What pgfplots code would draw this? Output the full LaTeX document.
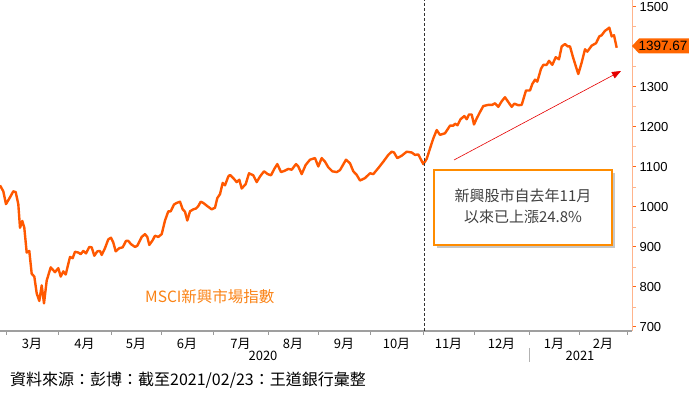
\documentclass[border=0pt]{standalone}
\usepackage{fontspec}
\setmainfont{Noto Sans CJK TC}
\newfontfamily\numfont{Liberation Sans}
\usepackage{pgfplots}
\pgfplotsset{compat=1.18}
\usetikzlibrary{arrows.meta}
\definecolor{lineor}{RGB}{255,88,0}
\definecolor{axor}{RGB}{255,180,140}
\definecolor{tickor}{RGB}{255,100,20}
\definecolor{tagor}{RGB}{255,102,0}
\definecolor{boxor}{RGB}{255,140,0}
\definecolor{lblor}{RGB}{250,130,20}
\definecolor{txtgray}{RGB}{64,64,64}
\pgfplotstableread{
x y
0 1054
3.3 1039
6 1007
10 1024
13.3 1039
15.7 1037
18.3 1007
20 948
22.3 965
24.3 948
26.7 886
29.3 890
31.7 833
34.3 826
36.7 784
39.3 765
41.7 804
44 759
46.7 816
50.7 849
55 837
58.3 847
60.7 826
63.3 839
65.7 831
70 875
72.7 872
75 888
78.3 886
80.7 882
83.3 890
86 884
89.3 900
91.7 899
94.3 878
97.3 889
100 890
101.7 880
105 897
108.3 919
111 923
113.3 911
115.7 889
119.3 897
122.7 899
126 915
128.3 915
131 907
135 900
137.3 903
141.7 925
145 932
147.3 925
149.3 905
152.7 917
155 928
158.3 925
161.7 932
165 966
168.3 989
170.7 989
174 1006
176.7 1010
180 1013
182.7 994
185 988
187.3 966
190 989
193.3 994
196 996
198.3 1002
200.7 1013
203.3 1010
207.3 1002
211.7 994
215 998
217.3 1022
220 1032
222.7 1060
225 1054
228.3 1076
230 1080
233.3 1072
236.7 1062
239.3 1068
241.7 1046
245.7 1057
249 1084
253.3 1079
256.7 1062
260 1076
264 1089
267.7 1082
271 1079
274.3 1095
277.3 1107
281 1087
284.3 1090
288.3 1095
291.7 1093
296 1107
298.3 1101
301.7 1082
305.7 1105
310 1118
315 1122
318.3 1101
321.7 1122
325 1113
328.3 1099
332.3 1089
336.7 1087
340 1092
346 1118
350 1109
353.3 1089
356.7 1080
360 1066
365 1072
370 1084
373.3 1082
378.3 1097
383.3 1113
388.3 1130
391.7 1138
394 1136
397.3 1122
401.7 1128
406.7 1138
411.7 1136
415 1130
418.3 1131
423.3 1107
426.7 1120
430 1146
433.3 1171
436.7 1192
440 1180
445 1184
450 1203
453.3 1203
455 1208
457.5 1204
460.5 1219
464.3 1227
466.7 1219
469 1231
471.7 1231
474 1206
476.7 1221
480 1237
483.3 1252
488.3 1255
492.3 1255
495 1259
498.3 1250
501.7 1264
505 1274
508.3 1262
511.7 1250
514.3 1258
518.3 1254
521.7 1255
526 1291
530 1291
532.3 1307
535 1318
537.3 1313
541 1345
543.3 1355
546.7 1355
549 1365
552.3 1355
555.7 1374
559 1369
561.7 1401
565 1407
567.7 1401
570 1401
573 1374
575.5 1354
578.3 1332
581.7 1361
585 1394
587.3 1388
591.7 1403
596 1409
599.3 1426
601.7 1429
605 1440
607.3 1444
609.3 1448
611.7 1426
614 1429
616.7 1397.67
}\msci
\begin{document}
\begin{tikzpicture}
\begin{axis}[
  at={(0,0)}, anchor=south west,
  width=632pt, height=331pt, scale only axis,
  xmin=0, xmax=632, ymin=690, ymax=1517,
  axis x line*=bottom, axis y line*=right,
  x axis line style={draw=gray!75, line width=1.2pt, -},
  y axis line style={draw=axor, line width=1pt, -},
  xtick={32,84.5,136,187,240.5,293,344,396.5,448.5,501.5,554,603},
  xticklabels={3月,4月,5月,6月,7月,8月,9月,10月,11月,12月,1月,2月},
  major x tick style={draw=none},
  minor xtick={6,58,111,161,213,268,318,370,423,474,529,579,627},
  minor x tick style={draw=gray!80, line width=0.8pt},
  tick align=outside,
  minor tick length=4pt, major tick length=4pt,
  xticklabel style={font=\fontsize{13}{13}\selectfont, text=black},
  ytick={700,800,900,1000,1100,1200,1300,1500},
  minor ytick={750,850,950,1050,1150,1250,1350,1450},
  major y tick style={draw=tickor, line width=1pt},
  minor y tick style={draw=axor, line width=0.8pt},
  yticklabel style={font=\numfont\fontsize{13}{13}\selectfont, text=black},
  /pgf/number format/assume math mode=true,
  /pgf/number format/1000 sep={},
  clip=false,
]
\addplot[lineor, line width=2.4pt, line join=round, no markers] table[x=x, y=y] {\msci};
\end{axis}
% dashed separator at November
\draw[black!80, dash pattern=on 3pt off 2pt, line width=0.6pt] (424pt,0pt) -- (424pt,331pt);
% arrow
\draw[red!90!black, line width=0.6pt, -{Triangle[length=9pt,width=7pt]}] (454pt,171pt) -- (621pt,260pt);
% annotation box
\fill[black!22] (437pt,83pt) rectangle (615pt,158pt);
\draw[boxor, fill=white, line width=1.1pt] (434pt,86pt) rectangle (612pt,161pt);
\node[text=txtgray, font=\fontsize{15}{15}\selectfont] at (523pt,135pt) {新興股市自去年11月};
\node[text=txtgray, font=\fontsize{15}{15}\selectfont] at (523pt,114pt) {以來已上漲24.8\%};
% series label
\node[anchor=west, text=lblor, font=\fontsize{15.5}{15.5}\selectfont, inner sep=0pt] at (145pt,34pt) {MSCI新興市場指數};
% last value tag
\fill[tagor] (632pt,285pt) -- (639pt,292.5pt) -- (689pt,292.5pt) -- (689pt,277.5pt) -- (639pt,277.5pt) -- cycle;
\node[text=black, font=\numfont\fontsize{13.5}{13.5}\selectfont, inner sep=0pt] at (663pt,285pt) {1397.67};
% years
\node[font=\fontsize{13}{13}\selectfont] at (263pt,-25pt) {2020};
\node[font=\fontsize{13}{13}\selectfont] at (580pt,-25pt) {2021};
\draw[gray!60, line width=1pt] (529pt,-17pt) -- (529pt,-31pt);
% footer
\node[anchor=west, inner sep=0pt, font=\fontsize{16}{16}\selectfont] at (10pt,-49pt) {資料來源：彭博：截至2021/02/23：王道銀行彙整};
\pgfresetboundingbox
\path (0pt,-67pt) rectangle (689pt,331pt);
\end{tikzpicture}
\end{document}
